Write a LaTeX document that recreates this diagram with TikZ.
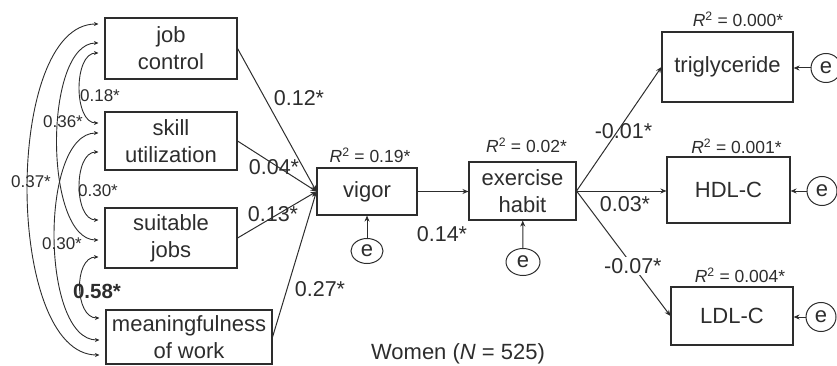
\documentclass[tikz,border=0pt]{standalone}
\usepackage{fontspec}
\setmainfont{Liberation Sans}
\usetikzlibrary{arrows.meta,shapes.geometric}
\definecolor{ink}{RGB}{45,45,45}
\begin{document}
\begin{tikzpicture}[x=1pt,y=-1pt,
  box/.style={draw=ink,line width=1.1pt,inner sep=0pt,align=center,text=ink,font=\fontsize{22}{27}\selectfont},
  err/.style={draw=ink,line width=1pt,ellipse,inner sep=0pt,minimum width=32pt,minimum height=25pt,text=ink,font=\fontsize{22}{22}\selectfont},
  conn/.style={draw=ink,line width=1pt},
  arr/.style={conn,-{Stealth[length=6pt,width=5pt]}},
  cov/.style={draw=ink,line width=0.9pt,{Stealth[length=4.5pt,width=4pt]}-{Stealth[length=4.5pt,width=4pt]}},
  lab/.style={text=ink,font=\fontsize{21.5}{22}\selectfont,inner sep=1pt},
  rsq/.style={text=ink,font=\fontsize{17.5}{20}\selectfont,inner sep=0pt},
  clab/.style={text=ink,font=\fontsize{17}{18}\selectfont,inner sep=0pt},
]
\useasboundingbox (0,0) rectangle (837,366);
% boxes
\node[box,minimum width=132pt,minimum height=61pt] (jc) at (171,48.5) {job\\control};
\node[box,minimum width=132pt,minimum height=58pt] (su) at (171,141) {skill\\utilization};
\node[box,minimum width=132pt,minimum height=60pt] (sj) at (171,238) {suitable\\jobs};
\node[box,minimum width=166pt,minimum height=54pt] (mw) at (189,337) {meaningfulness\\of work};
\node[box,minimum width=100pt,minimum height=47pt] (vg) at (367,191.5) {vigor};
\node[box,minimum width=107pt,minimum height=58pt] (ex) at (522.5,191) {exercise\\habit};
\node[box,minimum width=131pt,minimum height=70pt] (tg) at (727.5,67) {triglyceride};
\node[box,minimum width=123pt,minimum height=66pt] (hd) at (728.5,190) {HDL-C};
\node[box,minimum width=122pt,minimum height=58pt] (ld) at (732,316) {LDL-C};
% error terms
\node[err] (e1) at (367,251) {e};
\node[err,minimum width=34pt,minimum height=27pt] (e2) at (523,262) {e};
\node[err,minimum width=30pt,minimum height=29pt] (e3) at (826,68) {e};
\node[err,minimum width=30pt,minimum height=29pt] (e4) at (822,191) {e};
\node[err,minimum width=30pt,minimum height=29pt] (e5) at (821,317) {e};
\draw[arr] (e1) -- (vg);
\draw[arr] (e2) -- (ex);
\draw[arr] (e3) -- (e3 -| tg.east);
\draw[arr] (e4) -- (e4 -| hd.east);
\draw[arr] (e5) -- (e5 -| ld.east);
% paths to vigor
\draw[arr] (jc.east) -- (vg.west);
\draw[arr] (su.east) -- (vg.west);
\draw[arr] (sj.east) -- (vg.west);
\draw[arr] (mw.east) -- (vg.west);
\draw[arr] (vg.east) -- (vg.east -| ex.west);
\draw[arr] (ex.east) -- (tg.west);
\draw[arr] (ex.east) -- (ex.east -| hd.west);
\draw[arr] (ex.east) -- (ld.west) node[lab,pos=0.6,fill=white] (l7) {-0.07*};
% path labels
\node[lab] (l1) at (299,98) {0.12*};
\node[lab] (l2) at (274,167) {0.04*};
\node[lab] (l3) at (273,214) {0.13*};
\node[lab] (l4) at (320,289) {0.27*};
\node[lab] (l5) at (442,234) {0.14*};
\node[lab] (l6) at (623.5,131.5) {-0.01*};
\node[lab] (l8) at (625,204.5) {0.03*};
% R squared
\node[rsq] (r1) at (370,155) {\textit{R}\textsuperscript{2} = 0.19*};
\node[rsq] (r2) at (526.5,145) {\textit{R}\textsuperscript{2} = 0.02*};
\node[rsq] (r3) at (738,19) {\textit{R}\textsuperscript{2} = 0.000*};
\node[rsq] (r4) at (736.5,146) {\textit{R}\textsuperscript{2} = 0.001*};
\node[rsq] (r5) at (740,275) {\textit{R}\textsuperscript{2} = 0.004*};
% covariances
\draw[cov] ([xshift=-6pt,yshift=-4.5pt]jc.west) to[out=180,in=180,distance=25pt] ([xshift=-6pt,yshift=18pt]su.west);
\draw[cov] ([xshift=-6pt,yshift=5.5pt]jc.west) to[out=180,in=180,distance=55pt] ([xshift=-6pt,yshift=-2pt]sj.west);
\draw[cov] ([xshift=-6pt,yshift=24.5pt]jc.west) to[out=180,in=180,distance=95pt] ([xshift=-6pt,yshift=-18pt]mw.west);
\draw[cov] ([xshift=-6pt,yshift=-11pt]su.west) to[out=180,in=180,distance=25pt] ([xshift=-6pt,yshift=18pt]sj.west);
\draw[cov] ([xshift=-6pt,yshift=8pt]su.west) to[out=180,in=180,distance=59pt] ([xshift=-6pt,yshift=-3pt]mw.west);
\draw[cov] ([xshift=-6pt,yshift=-19pt]sj.west) to[out=180,in=180,distance=25pt] ([xshift=-6pt,yshift=19pt]mw.west);
\node[clab] (c1) at (100,96) {0.18*};
\node[clab] (c2) at (63,122) {0.36*};
\node[clab] (c3) at (31,182) {0.37*};
\node[clab] (c4) at (98,191) {0.30*};
\node[clab] (c5) at (62,244) {0.30*};
\node[clab,font=\fontsize{20.5}{22}\selectfont\bfseries] (c6) at (97,291) {0.58*};
% caption
\node[lab,font=\fontsize{22}{24}\selectfont] (cap) at (458,354) {Women (\textit{N} = 525)};
\end{tikzpicture}
\end{document}
